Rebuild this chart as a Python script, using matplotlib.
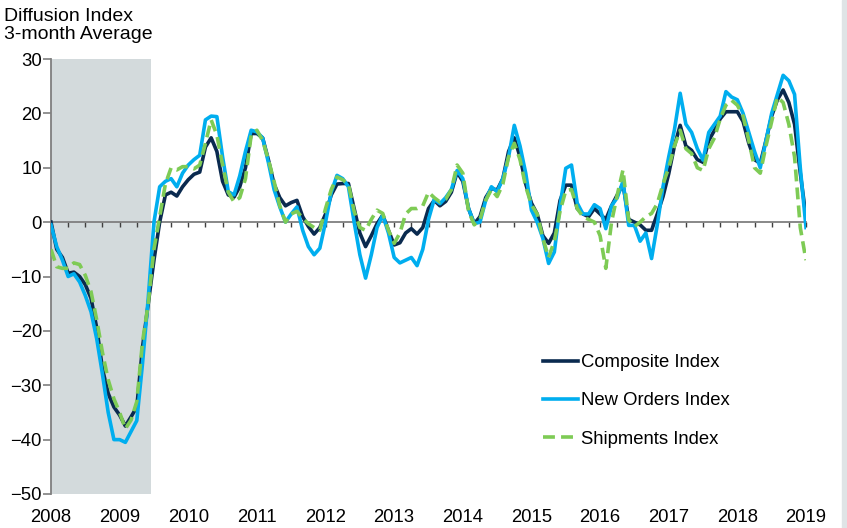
import matplotlib
matplotlib.use("Agg")
import matplotlib.pyplot as plt
from matplotlib.patches import Rectangle
from matplotlib.ticker import MultipleLocator
import numpy as np
import pandas as pd

plt.rcParams['font.family'] = ['Liberation Sans', 'DejaVu Sans']

# ---------------- data (monthly, Jan 2008 - Jan 2019) ----------------
dates = pd.date_range("2008-01-01", periods=133, freq="MS")

composite = [
    0, -5, -6.5, -9.4, -9.2, -10, -11.5, -14, -19.5, -27, -31.5, -34,
    -35.5, -37.5, -35.8, -34, -23, -15, -7, 0, 5, 5.5, 4.8, 6.5,
    7.8, 8.8, 9.2, 13.8, 15.5, 13, 7.5, 5, 4.6, 6.5, 10, 16.3,
    16.3, 15.5, 11.5, 7, 4.5, 3, 3.6, 4, 1, -0.8, -2.2, -1,
    1.5, 5, 7, 7.1, 7.1, 2.5, -2, -4.5, -2.5, -0.3, 1.3, -1.5,
    -4.2, -3.8, -2, -1.2, -2.2, -1, 2.5, 4, 3, 3.8, 5.5, 9.2,
    7.5, 2.5, -0.3, 1, 4.5, 6.2, 5.9, 8, 13, 15.5, 12, 7,
    3.5, 1.5, -2.5, -3.9, -2, 4, 6.8, 6.8, 2.5, 1.5, 1, 2.5,
    1.5, 0.5, 3, 5, 7, 0.5, 0, -0.5, -1.5, -1.5, 1.5, 4.7,
    8.9, 14, 17.8, 14, 13.2, 11.5, 11, 15, 16.9, 19, 20.3, 20.3,
    20.3, 18.5, 14.5, 11.5, 10.8, 15, 19.5, 22.5, 24.3, 22, 18, 9,
    1,
]

new_orders = [
    -0.5, -4.5, -7, -10, -9.5, -11, -13.5, -16.5, -21.5, -28, -35, -40,
    -40, -40.5, -38.5, -36.5, -26, -14, 0, 6.5, 7.5, 8, 6.5, 9,
    10.5, 11.5, 12.3, 18.8, 19.5, 19.4, 12, 5.6, 5, 8.5, 13, 16.9,
    16.6, 15.5, 11, 6, 2.8, 0, 1.5, 2.8, -1.5, -4.5, -6, -4.8,
    0, 5.5, 8.6, 8, 6.5, 0, -6, -10.3, -6, -1, 1.3, -2,
    -6.5, -7.5, -7, -6.5, -8, -5, 0.5, 4.2, 3.4, 4.5, 6, 9.5,
    8, 2.5, -0.3, 0, 4, 6.5, 5.6, 8, 12, 17.8, 14, 9,
    2.2, 0, -3, -7.6, -5.5, 3, 9.9, 10.5, 3.5, 1.5, 1.5, 3.2,
    2.5, -1.2, 3, 4.5, 7.5, -0.6, -0.6, -3.5, -2, -6.7, -0.5, 6.5,
    12, 17, 23.7, 18, 16.5, 13.5, 11.4, 16.5, 18, 19.5, 24, 23,
    22.5, 20, 16.5, 13, 10, 15, 20, 23.5, 27, 26, 23.5, 10,
    -1,
]

shipments = [
    -5, -8.2, -8.5, -8.5, -7.5, -7.8, -9.8, -12.8, -18, -24, -29, -32.5,
    -35, -38, -36.4, -33, -22, -15, -5, 1, 7, 10, 9.6, 10.2,
    10.2, 9.8, 10.5, 14.5, 18.8, 16, 10.5, 5.5, 3.7, 4.5, 8, 16,
    16.9, 15, 11.5, 7.5, 3, 0, 1.5, 2, 0.7, -0.3, -1, -1.5,
    2.5, 6, 8.3, 7.8, 7, 2, -1, -1.5, 0.5, 2.2, 1.6, -1.5,
    -3.9, -2, 1.5, 2.5, 2.5, 3, 5.5, 4.5, 3.7, 4.2, 6, 10.5,
    9, 2, -0.5, 0.5, 4, 6, 4.7, 7, 12, 14.5, 11.5, 6.5,
    3.2, 1.5, -3, -6.5, -3.5, 2, 5.8, 6, 2.5, 1, 0.5, 0,
    -2.5, -8.5, 0, 5, 9.6, 0.4, -0.8, 0, 1, 1.6, 3.4, 7,
    10, 14, 16.9, 13.5, 12.6, 10, 9.5, 13.5, 15.5, 19, 21.5, 22.4,
    21.5, 19.5, 15, 10, 9, 14, 18.5, 23, 22, 18, 12, -1,
    -7,
]

series_names = ["Composite Index", "New Orders Index", "Shipments Index"]
year_ticks = list(range(2008, 2020))
y_ticks = list(range(-50, 31, 10))
recession = (2008.0, 2009.45)

# ---------------- figure ----------------
x = dates.year + (dates.month - 1) / 12.0
FS = 13.3

fig = plt.figure(figsize=(8.47, 5.28), dpi=100)
ax = fig.add_axes([51 / 847, 1 - 494 / 528, 755 / 847, 435 / 528])

ax.axvspan(recession[0], recession[1], color="#d3dadc", lw=0, zorder=0)

ax.plot(x, composite, color="#0a2a4f", lw=2.6, label=series_names[0], zorder=3)
ax.plot(x, new_orders, color="#00aeef", lw=2.6, label=series_names[1], zorder=3)
ln, = ax.plot(x, shipments, color="#7ecb55", lw=2.6, label=series_names[2], zorder=3)
ln.set_dashes((3.3, 1.7))

ax.set_xlim(2008, 2019)
ax.set_ylim(-50, 30)
ax.set_yticks(y_ticks)

grey = "#7f7f7f"
for s in ["top", "right"]:
    ax.spines[s].set_visible(False)
ax.spines["left"].set_color(grey)
ax.spines["left"].set_linewidth(1.3)
ax.spines["bottom"].set_position(("data", 0))
ax.spines["bottom"].set_color(grey)
ax.spines["bottom"].set_linewidth(1.3)
ax.spines["bottom"].set_zorder(2)

ax.xaxis.set_major_locator(MultipleLocator(1))
ax.xaxis.set_minor_locator(MultipleLocator(0.25))
ax.tick_params(axis="x", which="both", direction="out", length=3.5, width=1,
               color="#404040", labelbottom=False)
ax.tick_params(axis="y", direction="out", length=5.5, width=1.2, color=grey,
               labelsize=FS, pad=1.0, labelcolor="black")

ax2 = ax.twiny()
ax2.set_xlim(2008, 2019)
ax2.set_xticks(year_ticks)
ax2.xaxis.tick_bottom()
ax2.tick_params(axis="x", length=0, labelsize=FS, pad=11, top=False, labeltop=False,
                bottom=True, labelbottom=True)
for s in ax2.spines.values():
    s.set_visible(False)

leg = ax.legend(loc="upper left", bbox_to_anchor=((543 - 51) / 755, 1 - (354 - 59) / 435),
                frameon=False, fontsize=FS, handlelength=1.9, handletextpad=0.15,
                labelspacing=1.16, borderpad=0, borderaxespad=0)

fig.text(4 / 847, 1 - 8 / 528, "Diffusion Index\n3-month Average", ha="left", va="top",
         fontsize=14, linespacing=1.05)

# light frame strip at right edge of image
fig.patches.append(Rectangle((842 / 847, 0), 5 / 847, 1, transform=fig.transFigure,
                             color="#dfe4e6", zorder=-1))

fig.savefig("out.png", dpi=100)
